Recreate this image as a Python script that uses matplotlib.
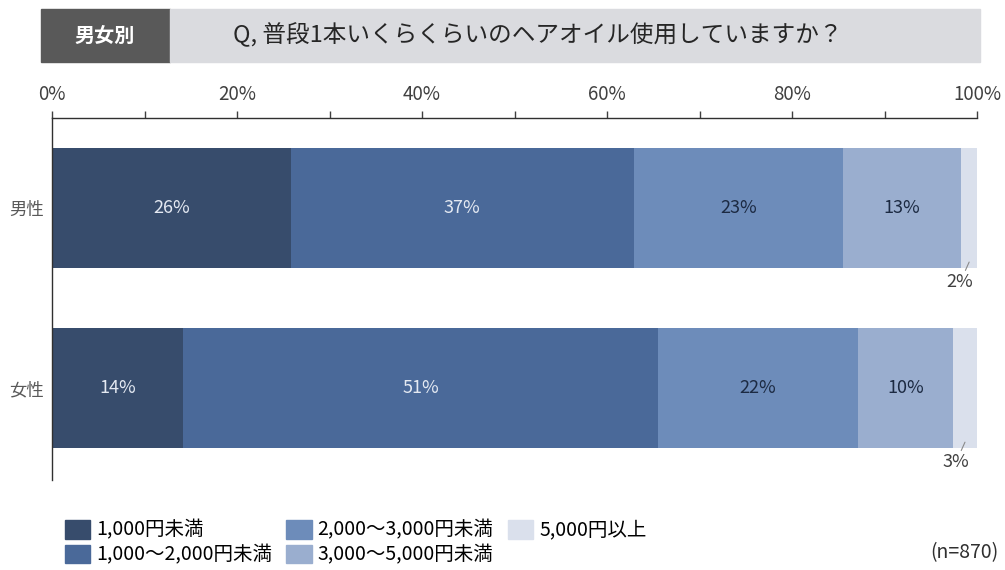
import numpy as np
import matplotlib.pyplot as plt
from matplotlib.patches import Rectangle, Patch
from matplotlib.ticker import MultipleLocator, PercentFormatter

plt.rcParams['font.family'] = ['Noto Sans CJK JP', 'DejaVu Sans']

groups = ['男性', '女性']
price_bands = ['1,000円未満', '1,000～2,000円未満', '2,000～3,000円未満',
               '3,000～5,000円未満', '5,000円以上']
male = [25.8, 37.1, 22.6, 12.8, 1.7]
female = [14.2, 51.3, 21.6, 10.3, 2.6]
n_total = 870

colors = ['#374c6c', '#4a6999', '#6d8cba', '#9aaecf', '#dae0ec']
text_colors = ['#e4e9f2', '#e4e9f2', '#1c2a42', '#1c2a42', None]

W, H = 1005, 570
fig = plt.figure(figsize=(W / 100, H / 100), dpi=100)

# header boxes
fig.patches.append(Rectangle((41 / W, 1 - 62 / H), 129 / W, 53 / H,
                             transform=fig.transFigure, color='#595959', zorder=0))
fig.patches.append(Rectangle((170 / W, 1 - 62 / H), 810 / W, 53 / H,
                             transform=fig.transFigure, color='#dadbdf', zorder=0))
fig.text(105 / W, 1 - 35 / H, '男女別', color='white', fontsize=14.5,
         fontweight='bold', ha='center', va='center')
fig.text(538 / W, 1 - 35 / H, 'Q, 普段1本いくらくらいのヘアオイル使用していますか？',
         color='#262626', fontsize=17, ha='center', va='center')

ax = fig.add_axes([52 / W, 1 - 480 / H, 925 / W, 362 / H])
data = np.array([male, female])
ypos = np.arange(len(groups))
left = np.zeros(len(groups))
for j, band in enumerate(price_bands):
    vals = data[:, j]
    ax.barh(ypos, vals, left=left, height=0.667, color=colors[j], label=band)
    for i in range(len(groups)):
        cx = left[i] + vals[i] / 2
        if vals[i] >= 5:
            ax.text(cx, ypos[i], f'{vals[i]:.0f}%', ha='center', va='center',
                    fontsize=13, color=text_colors[j])
        else:
            # small segment: label below the bar with a short leader line
            ax.annotate(f'{vals[i]:.0f}%', xy=(cx, ypos[i] + 0.30),
                        xytext=(-6.5, -14.5), textcoords='offset points',
                        ha='center', va='center', fontsize=13, color='#404040',
                        arrowprops=dict(arrowstyle='-', color='#8a8a8a', lw=0.8,
                                        shrinkA=0, shrinkB=0))
    left += vals

ax.set_xlim(0, 100)
ax.set_ylim(1.51, -0.5)
ax.set_yticks(ypos)
ax.set_yticklabels(groups, fontsize=12.5, color='#595959')
ax.tick_params(axis='y', length=0, pad=6)
ax.xaxis.tick_top()
ax.xaxis.set_major_locator(MultipleLocator(20))
ax.xaxis.set_minor_locator(MultipleLocator(10))
ax.xaxis.set_major_formatter(PercentFormatter(100, decimals=0))
ax.tick_params(axis='x', which='both', direction='out', length=5, width=1,
               color='#404040', labelsize=13.5, labelcolor='#404040', pad=4)
for s in ['right', 'bottom']:
    ax.spines[s].set_visible(False)
for s in ['top', 'left']:
    ax.spines[s].set_color('#303030')
    ax.spines[s].set_linewidth(1)

handles = [Patch(color=c) for c in colors]
fig.legend(handles, price_bands, loc='upper left', bbox_to_anchor=(57 / W, 1 - 512 / H),
           ncol=3, frameon=False, fontsize=14, handlelength=1.3, handleheight=1.1,
           handletextpad=0.3, columnspacing=0.75, labelspacing=0.2, borderaxespad=0)

fig.text(998 / W, 1 - 553 / H, f'(n={n_total})', ha='right', va='center',
         fontsize=14, color='#303030')

fig.savefig('out.png', dpi=100)
